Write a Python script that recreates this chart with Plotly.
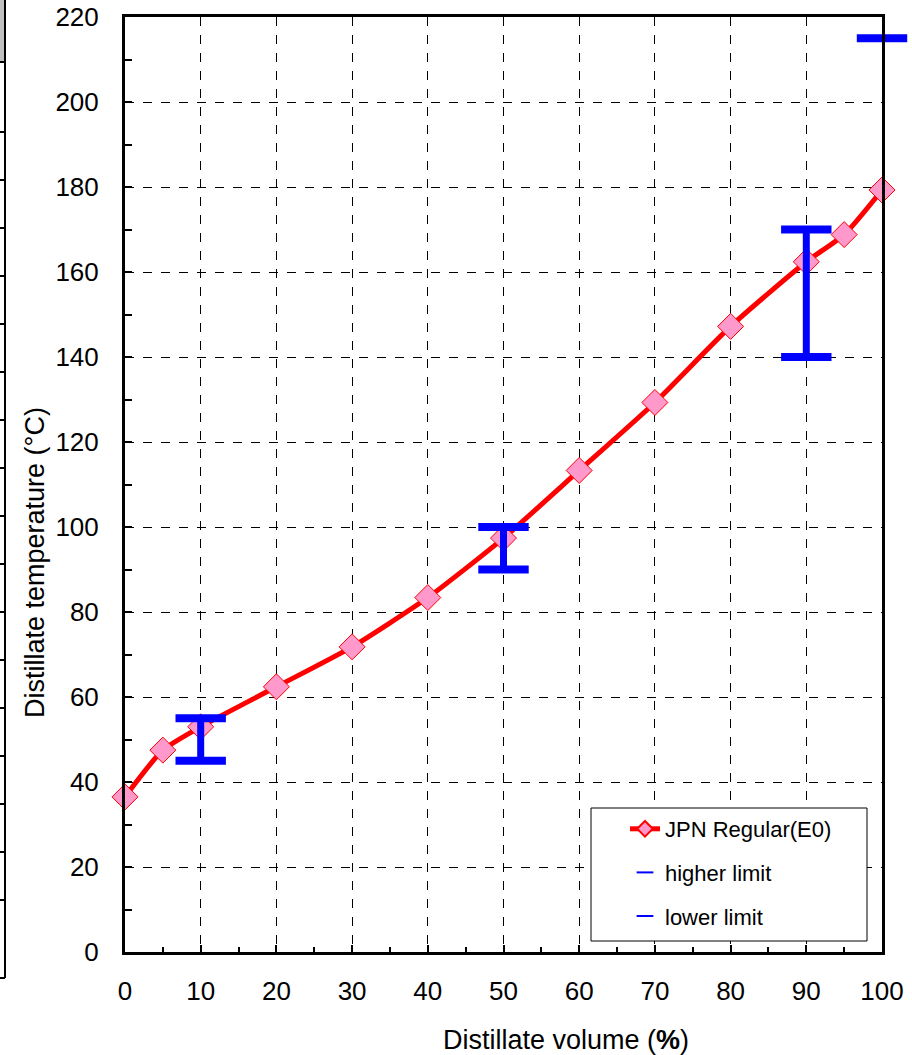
import plotly.graph_objects as go

# Distillation curve of JPN regular gasoline (E0)
volume = [0, 5, 10, 20, 30, 40, 50, 60, 70, 80, 90, 95, 100]
temperature = [36.5, 47.5, 53, 62.4, 71.8, 83.4, 97.4, 113.3, 129.3, 147.2, 162.4, 168.8, 179.3]

# Specification limits
limit_x_high = [10, 50, 90, 100]
higher_limit = [55, 100, 170, 215]
limit_x_low = [10, 50, 90]
lower_limit = [45, 90, 140]

x_ticks = list(range(0, 101, 10))
y_ticks = list(range(0, 221, 20))

W, H = 912, 1055
L, R, T, B = 125, 30, 17, 103
PW, PH = W - L - R, H - T - B


def px(xp):
    return (xp - L) / PW


def py(yp):
    return (H - B - yp) / PH


FONT = "Liberation Sans, Arial, sans-serif"
BLUE = "#0000FF"

fig = go.Figure()

fig.add_trace(go.Scatter(
    x=volume, y=temperature, name="JPN Regular(E0)",
    mode="lines+markers", line=dict(color="#FF0000", width=5, shape="spline", smoothing=0.6),
    marker=dict(symbol="diamond", size=20, color="#FF99CC", line=dict(color="#FF0000", width=1)),
    cliponaxis=False, legendgroup="a",
))

# vertical bars joining lower and higher limits
conn_x, conn_y = [], []
for xv, lo in zip(limit_x_low, lower_limit):
    hi = higher_limit[limit_x_high.index(xv)]
    conn_x += [xv, xv, None]
    conn_y += [lo, hi, None]
fig.add_trace(go.Scatter(
    x=conn_x, y=conn_y, mode="lines", line=dict(color=BLUE, width=7),
    showlegend=False, hoverinfo="skip", cliponaxis=False,
))

fig.add_trace(go.Scatter(
    x=limit_x_high, y=higher_limit, name="higher limit", mode="markers",
    marker=dict(symbol="line-ew", size=36, color=BLUE, line=dict(color=BLUE, width=8)),
    cliponaxis=False, legendgroup="b",
))
fig.add_trace(go.Scatter(
    x=limit_x_low, y=lower_limit, name="lower limit", mode="markers",
    marker=dict(symbol="line-ew", size=36, color=BLUE, line=dict(color=BLUE, width=8)),
    cliponaxis=False, legendgroup="c",
))

axis_common = dict(
    showline=True, linewidth=3, linecolor="black", mirror=True,
    ticks="inside", ticklen=7, tickwidth=1.5, tickcolor="black",
    showgrid=True, gridcolor="black", gridwidth=1, griddash="dash",
    zeroline=False, automargin=False,
    tickfont=dict(family=FONT, size=26, color="black"),
)

fig.update_xaxes(
    range=[0, 100], tickvals=x_ticks, ticklabelstandoff=14,
    minor=dict(dtick=5, ticks="inside", ticklen=5, tickcolor="black", showgrid=False),
    **axis_common,
)
fig.update_yaxes(
    range=[0, 220], tickvals=y_ticks, ticklabelstandoff=18,
    minor=dict(dtick=10, ticks="inside", ticklen=7, tickcolor="black", showgrid=False),
    **axis_common,
)

fig.add_annotation(
    text="Distillate temperature (°C)", xref="paper", yref="paper",
    x=px(35), y=py(563), xanchor="center", yanchor="middle",
    textangle=-90, showarrow=False,
    font=dict(family=FONT, size=27, color="black"),
)
fig.add_annotation(
    text="Distillate volume (<b>%</b>)", xref="paper", yref="paper",
    x=px(566), y=py(1040), xanchor="center", yanchor="middle", showarrow=False,
    font=dict(family=FONT, size=27, color="black"),
)

# legend frame
shapes = [
    dict(type="rect", xref="paper", yref="paper", x0=px(591), x1=px(867), y0=py(941), y1=py(808),
         fillcolor="white", line=dict(color="black", width=1), layer="above"),
]

# edge of the neighbouring panel at the left border
shapes += [
    dict(type="rect", xref="paper", yref="paper", x0=px(0), x1=px(5), y0=py(62), y1=py(0),
         fillcolor="#C0C0C0", line=dict(width=0), layer="above"),
    dict(type="line", xref="paper", yref="paper", x0=px(5), x1=px(5), y0=py(978), y1=py(0),
         line=dict(color="black", width=2)),
    dict(type="line", xref="paper", yref="paper", x0=px(0), x1=px(5), y0=py(62), y1=py(62),
         line=dict(color="black", width=2)),
]
for k in range(17):
    yy = 132 + 48 * k
    shapes.append(dict(type="line", xref="paper", yref="paper", x0=px(0), x1=px(5),
                       y0=py(yy), y1=py(yy), line=dict(color="black", width=2)))
shapes.append(dict(type="line", xref="paper", yref="paper", x0=px(0), x1=px(5),
                   y0=py(978), y1=py(978), line=dict(color="black", width=2)))

fig.update_layout(
    width=W, height=H, margin=dict(l=L, r=R, t=T, b=B, autoexpand=False),
    paper_bgcolor="white", plot_bgcolor="white",
    shapes=shapes,
    legend=dict(
        x=px(625), y=py(808), xanchor="left", yanchor="top",
        bgcolor="rgba(0,0,0,0)", borderwidth=0,
        font=dict(family=FONT, size=22, color="black"),
        tracegroupgap=12, itemwidth=30, itemsizing="constant",
    ),
    font=dict(family=FONT),
)

fig.write_html("out.html")
